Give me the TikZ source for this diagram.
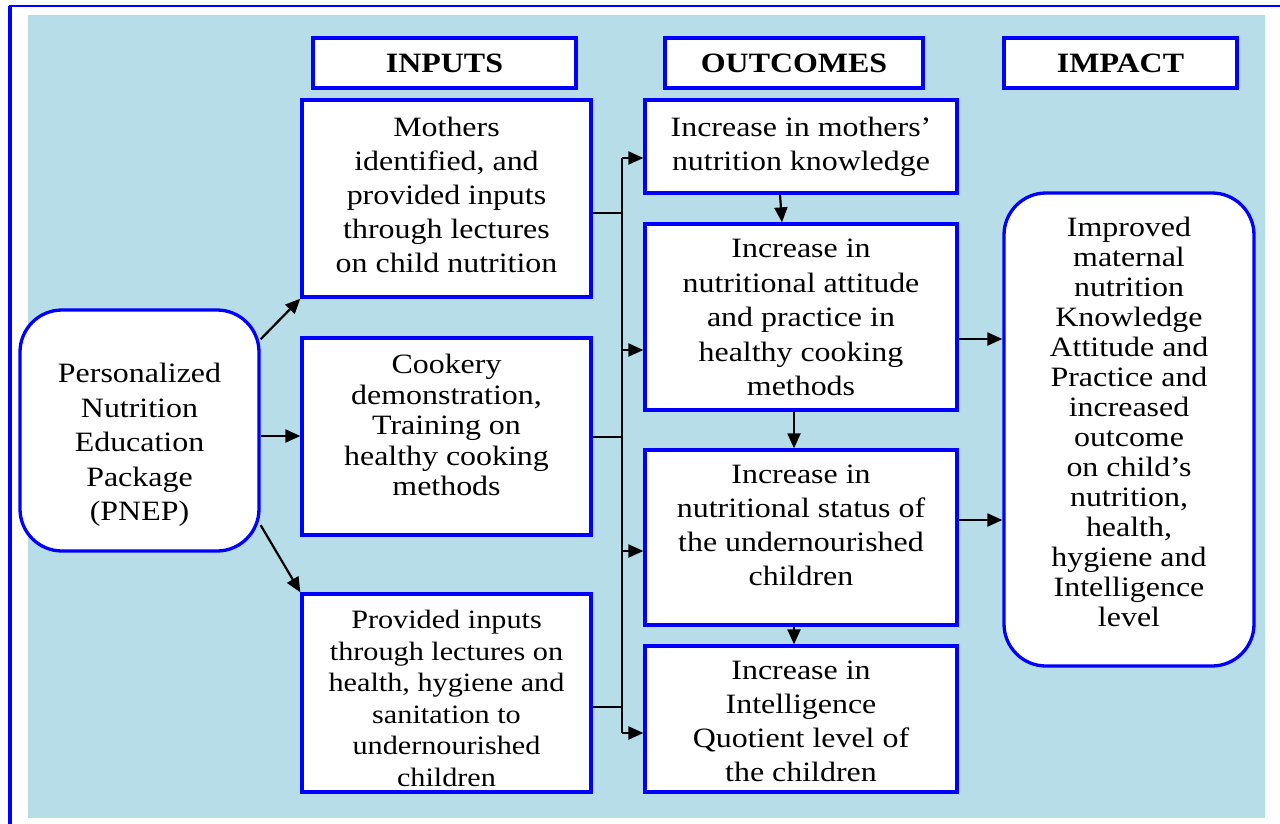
\documentclass[tikz,border=0pt]{standalone}
\usepackage{fontspec}
\setmainfont{Liberation Serif}[FakeStretch=1.14]
\usetikzlibrary{arrows.meta}
\definecolor{bgblue}{RGB}{183,221,232}
\definecolor{frameblue}{RGB}{0,0,255}
\begin{document}
\begin{tikzpicture}[x=1pt,y=-1pt,
  box/.style={draw=frameblue, line width=3.3pt, fill=white, inner sep=0pt},
  rbox/.style={box, rounded corners=42pt},
  head/.style={box, font=\fontsize{28}{34}\selectfont\bfseries, minimum height=50pt},
  txt/.style={anchor=north, align=center, inner sep=0pt, font=\fontsize{28}{#1}\selectfont},
  txt/.default=34,
  bus/.style={black, line width=2pt},
  feed/.style={black, line width=1.2pt},
  arr/.style={black, line width=2.2pt, -{Triangle[length=15pt,width=13pt]}}]
\useasboundingbox (0,0) rectangle (1280,824);
% frame and background
\fill[bgblue] (28,15) rectangle (1265,818);
\draw[frameblue, line width=3.5pt] (10,830) -- (10,6);
\draw[frameblue, line width=2pt] (9,6) -- (1290,6);
% headers
\node[head, minimum width=263pt] (hin) at (444.5,63) {INPUTS};
\node[head, minimum width=258pt] (hout) at (794,63) {OUTCOMES};
\node[head, minimum width=233pt] (himp) at (1120.5,63) {IMPACT};
% PNEP
\node[rbox, minimum width=239pt, minimum height=241pt] (pnep) at (139.5,430.5) {};
\node[txt=34.5] (tp) at (139.5,363) {Personalized\\Nutrition\\Education\\Package\\(PNEP)};
% inputs
\node[box, minimum width=289pt, minimum height=197pt] (i1) at (446.5,198.5) {};
\node[txt] (ti1) at (446.5,117) {Mothers\\identified, and\\provided inputs\\through lectures\\on child nutrition};
\node[box, minimum width=289pt, minimum height=197pt] (i2) at (446.5,436.5) {};
\node[txt=30.5] (ti2) at (446.5,354) {Cookery\\demonstration,\\Training on\\healthy cooking\\methods};
\node[box, minimum width=289pt, minimum height=198pt] (i3) at (446.5,693) {};
\node[anchor=north, align=center, inner sep=0pt, font=\fontsize{26.5}{31.5}\selectfont] (ti3) at (446.5,610) {Provided inputs\\through lectures on\\health, hygiene and\\sanitation to\\undernourished\\children};
% outcomes
\node[box, minimum width=312pt, minimum height=93pt] (o1) at (801,146.5) {};
\node[txt] (to1) at (801,117) {Increase in mothers'\\nutrition knowledge};
\node[box, minimum width=312pt, minimum height=186pt] (o2) at (801,317) {};
\node[txt=34.5] (to2) at (801,239) {Increase in\\nutritional attitude\\and practice in\\healthy cooking\\methods};
\node[box, minimum width=312pt, minimum height=175pt] (o3) at (801,537.5) {};
\node[txt] (to3) at (801,465) {Increase in\\nutritional status of\\the undernourished\\children};
\node[box, minimum width=312pt, minimum height=146pt] (o4) at (801,719) {};
\node[txt] (to4) at (801,661) {Increase in\\Intelligence\\Quotient level of\\the children};
% impact
\node[rbox, minimum width=250pt, minimum height=473pt] (imp) at (1129,429.5) {};
\node[txt=30] (timp) at (1129,217) {Improved\\maternal\\nutrition\\Knowledge\\Attitude and\\Practice and\\increased\\outcome\\on child's\\nutrition,\\health,\\hygiene and\\Intelligence\\level};
% bus
\coordinate (bus) at (622,0);
\draw[feed] (i1.east |- 0,213) -- (bus |- 0,213);
\draw[feed] (i2.east |- 0,437) -- (bus |- 0,437);
\draw[feed] (i3.east |- 0,707) -- (bus |- 0,707);
\draw[bus] (bus |- 0,158) -- (bus |- 0,733);
\draw[arr] (bus |- 0,158) -- (o1.west |- 0,158);
\draw[arr] (bus |- 0,350) -- (o2.west |- 0,350);
\draw[arr] (bus |- 0,551) -- (o3.west |- 0,551);
\draw[arr] (bus |- 0,733) -- (o4.west |- 0,733);
% PNEP arrows
\draw[arr] (pnep.37) -- (i1.south west);
\draw[arr] (pnep.east |- 0,436) -- (i2.west |- 0,436);
\draw[arr] (pnep.-38) -- (i3.north west);
% outcome chain
\draw[arr] ([xshift=-21pt]o1.south) -- ([xshift=-19pt]o2.north);
\draw[arr] ([xshift=-7pt]o2.south) -- ([xshift=-7pt]o3.north);
\draw[arr] ([xshift=-7pt]o3.south) -- ([xshift=-7pt]o4.north);
% to impact
\draw[arr] (o2.east |- 0,339) -- (imp.west |- 0,339);
\draw[arr] (o3.east |- 0,520) -- (imp.west |- 0,520);
\end{tikzpicture}
\end{document}
